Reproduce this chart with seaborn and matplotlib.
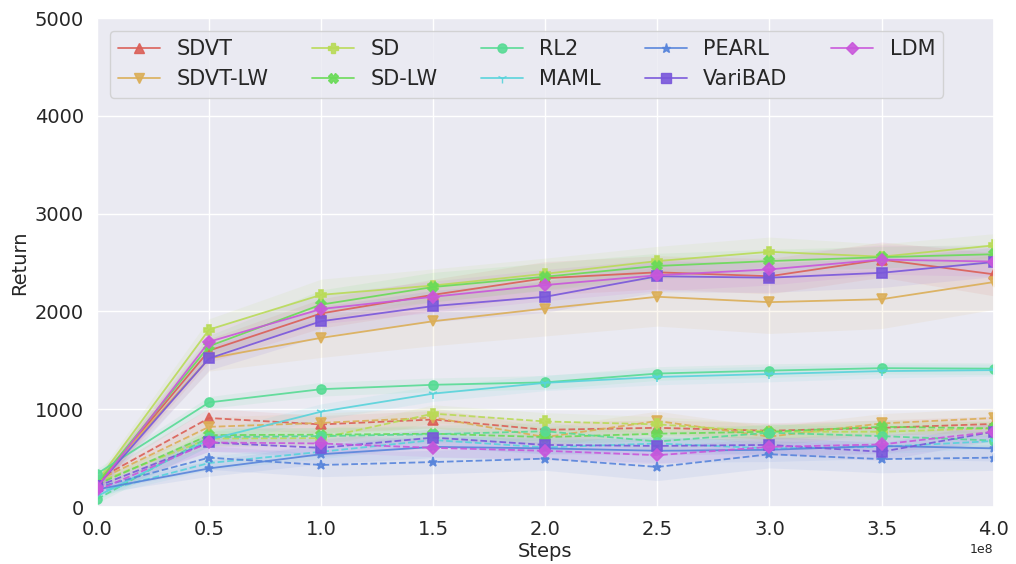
import numpy as np
import pandas as pd
import matplotlib
matplotlib.use("Agg")
import matplotlib.pyplot as plt
import seaborn as sns
from matplotlib.lines import Line2D

steps = [0.0, 0.5e8, 1.0e8, 1.5e8, 2.0e8, 2.5e8, 3.0e8, 3.5e8, 4.0e8]
methods = ["SDVT", "SDVT-LW", "SD", "SD-LW", "RL2", "MAML", "PEARL", "VariBAD", "LDM"]
markers = ["^", "v", "P", "X", "o", "1", "*", "s", "D"]

# solid lines (training tasks)
solid = {
    "SDVT":    [230, 1600, 1980, 2170, 2340, 2400, 2360, 2530, 2380],
    "SDVT-LW": [250, 1520, 1730, 1900, 2030, 2150, 2095, 2125, 2300],
    "SD":      [260, 1815, 2170, 2265, 2385, 2515, 2610, 2560, 2675],
    "SD-LW":   [240, 1645, 2070, 2250, 2355, 2465, 2515, 2555, 2585],
    "RL2":     [340, 1070, 1205, 1250, 1275, 1365, 1395, 1420, 1415],
    "MAML":    [110, 690, 975, 1160, 1270, 1330, 1360, 1390, 1400],
    "PEARL":   [180, 395, 540, 615, 600, 575, 585, 625, 600],
    "VariBAD": [210, 1520, 1900, 2055, 2150, 2360, 2345, 2395, 2505],
    "LDM":     [200, 1690, 2025, 2150, 2270, 2370, 2430, 2530, 2510],
}
solid_std = {
    "SDVT":    [60, 120, 150, 160, 170, 170, 180, 180, 220],
    "SDVT-LW": [60, 130, 200, 250, 280, 300, 320, 300, 280],
    "SD":      [60, 110, 160, 170, 160, 150, 150, 130, 120],
    "SD-LW":   [60, 110, 150, 150, 140, 130, 120, 110, 100],
    "RL2":     [50, 60, 70, 70, 70, 70, 70, 60, 60],
    "MAML":    [40, 70, 80, 80, 80, 80, 80, 70, 60],
    "PEARL":   [40, 80, 100, 110, 110, 120, 120, 130, 130],
    "VariBAD": [60, 120, 150, 160, 160, 160, 150, 150, 150],
    "LDM":     [60, 130, 150, 160, 160, 160, 160, 150, 150],
}
# dashed lines (test tasks)
dashed = {
    "SDVT":    [280, 910, 845, 895, 790, 810, 780, 810, 850],
    "SDVT-LW": [270, 820, 860, 915, 715, 880, 720, 855, 910],
    "SD":      [250, 700, 705, 955, 875, 845, 770, 770, 805],
    "SD-LW":   [230, 735, 740, 750, 715, 750, 770, 820, 805],
    "RL2":     [80, 715, 725, 745, 775, 670, 760, 725, 680],
    "MAML":    [150, 450, 565, 685, 610, 650, 600, 615, 675],
    "PEARL":   [200, 505, 430, 460, 495, 410, 540, 490, 505],
    "VariBAD": [210, 660, 605, 710, 635, 625, 635, 565, 770],
    "LDM":     [170, 660, 650, 605, 575, 530, 615, 640, 770],
}
dashed_std = {
    "SDVT":    [50, 100, 90, 90, 80, 80, 80, 80, 80],
    "SDVT-LW": [50, 100, 100, 100, 100, 100, 100, 100, 100],
    "SD":      [50, 80, 80, 90, 90, 80, 80, 80, 80],
    "SD-LW":   [50, 70, 70, 70, 70, 70, 70, 70, 70],
    "RL2":     [40, 90, 90, 90, 90, 90, 90, 90, 90],
    "MAML":    [40, 70, 70, 70, 70, 70, 70, 70, 70],
    "PEARL":   [40, 120, 120, 120, 120, 140, 140, 140, 130],
    "VariBAD": [50, 90, 90, 90, 90, 90, 90, 90, 90],
    "LDM":     [50, 90, 90, 90, 90, 90, 90, 90, 90],
}

sns.set_theme(style="darkgrid")
plt.rcParams["font.family"] = ["DejaVu Sans"]

colors = sns.color_palette("hls", 10)[:len(methods)]

fig, ax = plt.subplots(figsize=(10.16, 5.64), dpi=100)
fig.subplots_adjust(left=0.0955, right=0.978, top=0.968, bottom=0.101)

rows = []
for m in methods:
    for variant, src in (("train", solid), ("test", dashed)):
        for s, v in zip(steps, src[m]):
            rows.append({"method": m, "variant": variant, "step": s, "ret": v})
df = pd.DataFrame(rows)

for m, mk, c in zip(methods, markers, colors):
    for variant, src_std, ls in (("train", solid_std, "-"), ("test", dashed_std, "--")):
        sub = df[(df.method == m) & (df.variant == variant)]
        y = sub["ret"].to_numpy()
        sd = np.array(src_std[m])
        ax.fill_between(sub["step"], y - sd, y + sd, color=c, alpha=0.09, linewidth=0)
        sns.lineplot(data=sub, x="step", y="ret", ax=ax, color=c, linestyle=ls,
                     marker=mk, markersize=6.5, markeredgecolor=c, markeredgewidth=1.2,
                     linewidth=1.3, alpha=0.9, legend=False)

handles = [Line2D([], [], color=c, marker=mk, markersize=6.5, linewidth=1.3,
                  markeredgecolor=c, alpha=0.9) for mk, c in zip(markers, colors)]
ax.legend(handles, methods, ncol=5, loc="upper left", fontsize=15,
          columnspacing=2.1, handlelength=2.0, borderaxespad=0.6, frameon=True)

ax.set_xlim(0, 4e8)
ax.set_ylim(0, 5000)
ax.set_xticks(steps)
ax.ticklabel_format(axis="x", style="sci", scilimits=(0, 0))
ax.xaxis.get_offset_text().set_fontsize(9)
ax.tick_params(axis="both", labelsize=14)
ax.set_xlabel("Steps", fontsize=14, labelpad=2)
ax.set_ylabel("Return", fontsize=14)

fig.savefig("out.png", dpi=100)
